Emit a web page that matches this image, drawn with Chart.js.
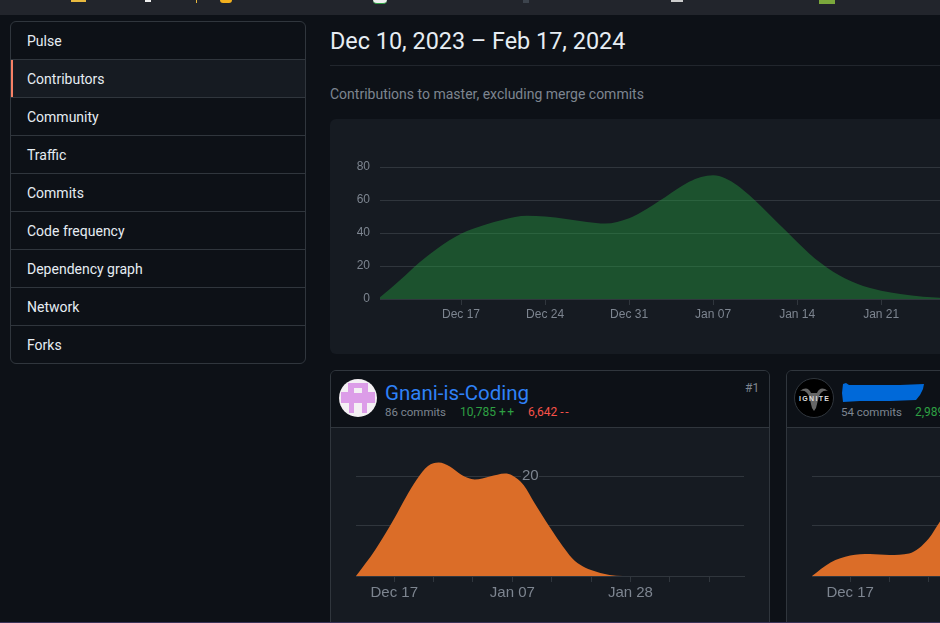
<!DOCTYPE html>
<html>
<head>
<meta charset="utf-8">
<title>Contributors</title>
<script src="https://cdn.jsdelivr.net/npm/chart.js@4"></script>
<style>
    html, body { margin: 0; width: 940px; height: 623px; overflow: hidden; background: #0d1117; }
    body { position: relative; font-family: Roboto, sans-serif; color: #e6edf3; }
    .abs { position: absolute; white-space: nowrap; }

    #topbar { position: absolute; left: 0; top: 0; width: 940px; height: 15px; background: #22252c; }
    #topbar i { position: absolute; top: 0; display: block; }
    #bottomline { position: absolute; left: 0; top: 622px; width: 940px; height: 1px; background: #3a3358; }

    #menu { position: absolute; left: 10px; top: 21px; width: 294px; border: 1px solid #30363d; border-radius: 6px; overflow: hidden; }
    #menu div { height: 37px; line-height: 39px; padding-left: 16px; font-size: 14px; border-top: 1px solid #30363d; }
    #menu div:first-child { border-top: 0; }
    #menu div.sel { background: #161b22; box-shadow: inset 2px 0 0 #f78166; }

    #panel { position: absolute; left: 330px; top: 119px; width: 610px; height: 235px; background: #161b22; border-radius: 6px 0 0 6px; }
    .card { position: absolute; top: 370px; height: 260px; background: #161b22; border: 1px solid #30363d; border-radius: 6px; box-sizing: border-box; overflow: hidden; }
    .head { position: absolute; left: 0; top: 0; right: 0; height: 56px; background: #0d1117; border-bottom: 1px solid #30363d; }
    .stats { font-size: 12px; color: #7d8590; }
    .count { font-size: 11.5px; }
    .green { color: #2ea043; }
    .red { color: #f85149; }
    .sign { letter-spacing: 1.5px; }
    canvas { position: absolute; display: block; }
</style>
</head>
<body>
<div id="topbar">
    <i style="left:71px;width:15px;height:2px;background:#e8b93f"></i>
    <i style="left:145px;width:6px;height:2px;background:#eee"></i>
    <i style="left:196px;width:1px;height:3px;background:#e8b93f"></i>
    <i style="left:220px;width:12px;height:3px;background:#f2b01e;border-radius:0 0 6px 6px"></i>
    <i style="left:373px;width:14px;height:4px;background:#eee;border-radius:0 0 7px 7px;border-bottom:1px solid #2ea043;box-sizing:border-box"></i>
    <i style="left:523px;width:6px;height:3px;background:#3d444d"></i>
    <i style="left:671px;width:12px;height:2px;background:#ccc"></i>
    <i style="left:819px;width:16px;height:4px;background:#7ba83c"></i>
</div>

<div id="menu">
    <div>Pulse</div>
    <div class="sel">Contributors</div>
    <div>Community</div>
    <div>Traffic</div>
    <div>Commits</div>
    <div>Code frequency</div>
    <div>Dependency graph</div>
    <div>Network</div>
    <div>Forks</div>
</div>

<div class="abs" style="left:330px;top:25px;font-size:23.4px;line-height:33px">Dec 10, 2023 – Feb 17, 2024</div>
<div class="abs" style="left:330px;top:65px;width:610px;height:1px;background:#21262d"></div>
<div class="abs" style="left:330px;top:85px;font-size:14px;line-height:19px;color:#7d8590">Contributions to master, excluding merge commits</div>

<div id="panel"><canvas id="mainChart" width="610" height="235" style="left:0;top:0;width:610px;height:235px"></canvas></div>

<div class="card" style="left:330px;width:440px">
    <div class="head"></div>
    <canvas id="card1Chart" width="438" height="200" style="left:0;top:57px;width:438px;height:200px"></canvas>
</div>
<div class="card" style="left:786px;width:200px">
    <div class="head"></div>
    <canvas id="card2Chart" width="153" height="200" style="left:0;top:57px;width:153px;height:200px"></canvas>
</div>

<!-- avatars -->
<svg class="abs" style="left:339px;top:379px" width="38" height="38" viewBox="0 0 38 38">
    <defs><clipPath id="round"><circle cx="19" cy="19" r="19"/></clipPath></defs>
    <g clip-path="url(#round)">
        <rect width="38" height="38" fill="#f4f0f4"/>
        <path fill="#dc9de8" d="M9 4H29V13H36V24H28V34H23V24H15V34H10V24H2V13H9ZM15 9V14H23V9Z"/>
    </g>
</svg>
<svg class="abs" style="left:794px;top:378px" width="40" height="40" viewBox="0 0 40 40">
    <circle cx="20" cy="20" r="19.5" fill="#000" stroke="#30363d"/>
    <path fill="#666" d="M6 13C11 9 15 10 17 15H23C25 10 29 9 34 13C29 12 27 14 25 18L22 30L20 33L18 30L15 18C13 14 11 12 6 13Z"/>
    <text x="5" y="23" font-family="Liberation Sans" font-weight="bold" font-size="7" textLength="30" fill="#ddd">IGNITE</text>
</svg>

<div class="abs" style="left:385px;top:380px;font-size:20.5px;line-height:27px;color:#2f81f7">Gnani-is-Coding</div>
<div class="abs stats count" style="left:385px;top:404px;line-height:17px">86 commits</div>
<div class="abs stats green" style="left:460px;top:404px;line-height:17px">10,785 <span class="sign">++</span></div>
<div class="abs stats red" style="left:528px;top:404px;line-height:17px">6,642 <span class="sign">--</span></div>
<div class="abs stats" style="left:745px;top:380px;line-height:17px">#1</div>

<svg class="abs" style="left:840px;top:381px" width="86" height="24" viewBox="0 0 86 24">
    <path fill="#0069d9" d="M3 3L6 2L9 4L30 4L60 4L84 3L83 8L80 14L76 19L50 20L20 20L3 21L2 12Z"/>
</svg>
<div class="abs stats count" style="left:841px;top:404px;line-height:17px">54 commits</div>
<div class="abs stats green" style="left:915px;top:404px;line-height:17px">2,989 ++</div>

<div id="bottomline"></div>

<script>
// x values are days counted from Dec 10
const mainDays   = [0.25, 2, 3.5, 5, 7, 9, 10.5, 12.5, 14, 17.5, 19, 21, 22, 23, 24, 25, 26, 27, 28, 29, 30, 31, 32, 33, 34, 35, 36, 37, 38, 39, 40, 41, 42, 43.6, 45.5, 49];
const mainValues = [1, 12, 22, 30.5, 39.5, 45, 48, 50.4, 50, 46.7, 45.7, 49, 52.6, 57, 61.6, 66.6, 71, 74, 75, 73.2, 69, 63, 56.2, 49, 41.8, 34.5, 27.6, 21.6, 16.5, 12.4, 9.2, 6.8, 5, 3, 1.3, 0.4];
const mainTickDays   = [7, 14, 21, 28, 35, 42];
const mainTickLabels = ['Dec 17', 'Dec 24', 'Dec 31', 'Jan 07', 'Jan 14', 'Jan 21'];
const mainYTicks = [0, 20, 40, 60, 80];

const card1Days   = [0.2, 3.6, 7, 9, 11, 13, 14.9, 16.9, 19, 21.3, 24, 26.7, 28, 30, 32, 34, 35, 37, 38.6, 40, 42, 45.3, 47.6, 69.2];
const card1Values = [0, 5.2, 11.5, 15.6, 19.3, 22, 22.7, 21.9, 20.2, 19.3, 19.9, 20.5, 20.1, 18.2, 14.5, 10.9, 9.2, 5.9, 3.6, 2.3, 1.2, 0.2, 0, 0];

const card2Days   = [0.2, 3.5, 7, 10.5, 14, 17.5, 21, 23, 24.5];
const card2Values = [0, 2.7, 4.1, 4.4, 4.2, 4.5, 7.5, 10.9, 13];

const cardTickDays   = [7, 14, 21, 28, 35, 42, 49, 56, 63];
const cardTickLabels = ['Dec 17', '', '', 'Jan 07', '', '', 'Jan 28', '', ''];
const cardYTicks = [0, 10, 20];
const card1InnerTick = 20;

const GRID = '#30363d';
const MUTED = '#7d8590';
const AXIS_FONT = 'Liberation Sans';

function toPoints(days, values) {
    return days.map((d, i) => ({ x: d, y: values[i] }));
}

function tickSetter(list) {
    return axis => { axis.ticks = list.map(v => ({ value: v })); };
}

function labelFor(days, labels) {
    return v => { const i = days.indexOf(v); return i < 0 ? '' : labels[i]; };
}

// card 1 has its "20" inside the plot, over the gridline
const innerTick = {
    id: 'innerTick',
    beforeDatasetsDraw(chart) {
        const ctx = chart.ctx;
        const y = chart.scales.y.getPixelForValue(card1InnerTick);
        const x = chart.chartArea.left + 166;
        ctx.save();
        ctx.fillStyle = '#161b22';
        ctx.fillRect(x - 1, y - 2, 18, 4);
        ctx.font = '15px "' + AXIS_FONT + '"';
        ctx.fillStyle = MUTED;
        ctx.textBaseline = 'middle';
        ctx.fillText(String(card1InnerTick), x, y);
        ctx.restore();
    }
};

function makeArea(id, cfg) {
    new Chart(document.getElementById(id), {
        type: 'line',
        plugins: cfg.plugins || [],
        data: {
            datasets: [{
                data: toPoints(cfg.days, cfg.values),
                fill: 'origin',
                backgroundColor: cfg.color,
                borderWidth: 0,
                pointRadius: 0,
                cubicInterpolationMode: 'monotone'
            }]
        },
        options: {
            responsive: false,
            animation: false,
            events: [],
            layout: { padding: { top: cfg.top, right: cfg.right || 0, bottom: 0, left: cfg.left || 0 } },
            plugins: { legend: { display: false }, tooltip: { enabled: false } },
            scales: {
                x: {
                    type: 'linear',
                    min: cfg.xMin,
                    max: cfg.xMax,
                    afterBuildTicks: tickSetter(cfg.tickDays),
                    afterFit: s => { s.height = cfg.xHeight; },
                    grid: { drawOnChartArea: false, color: GRID, tickLength: 6, tickColor: GRID },
                    border: { color: GRID },
                    ticks: {
                        autoSkip: false, maxRotation: 0, padding: cfg.xPad,
                        color: MUTED, font: { family: AXIS_FONT, size: cfg.xFont },
                        callback: labelFor(cfg.tickDays, cfg.tickLabels)
                    }
                },
                y: cfg.y
            }
        }
    });
}

makeArea('mainChart', {
    days: mainDays, values: mainValues, color: 'rgba(38,166,65,0.4)',
    top: 48, xMin: 0.25, xMax: 46.9, xHeight: 55, xPad: 2, xFont: 12,
    tickDays: mainTickDays, tickLabels: mainTickLabels,
    y: {
        min: 0, max: 80,
        afterBuildTicks: tickSetter(mainYTicks),
        afterFit: s => { s.width = 50; },
        grid: { color: GRID, drawTicks: false },
        border: { display: false },
        ticks: { padding: 10, color: MUTED, font: { family: AXIS_FONT, size: 12 } }
    }
});

function cardY() {
    return {
        min: 0, max: 24,
        afterBuildTicks: tickSetter(cardYTicks),
        afterFit: s => { s.width = 0; },
        grid: { color: GRID, drawTicks: false },
        border: { display: false },
        ticks: { display: false }
    };
}

makeArea('card1Chart', {
    days: card1Days, values: card1Values, color: '#db6d28',
    top: 28, left: 25, right: 25, xMin: 0.2, xMax: 69.2, xHeight: 52, xPad: 2, xFont: 15,
    tickDays: cardTickDays, tickLabels: cardTickLabels,
    y: cardY(),
    plugins: [innerTick]
});

makeArea('card2Chart', {
    days: card2Days, values: card2Values, color: '#db6d28',
    top: 28, left: 25, xMin: 0.2, xMax: 23, xHeight: 52, xPad: 2, xFont: 15,
    tickDays: cardTickDays.slice(0, 3), tickLabels: cardTickLabels.slice(0, 3),
    y: cardY()
});
</script>
</body>
</html>
